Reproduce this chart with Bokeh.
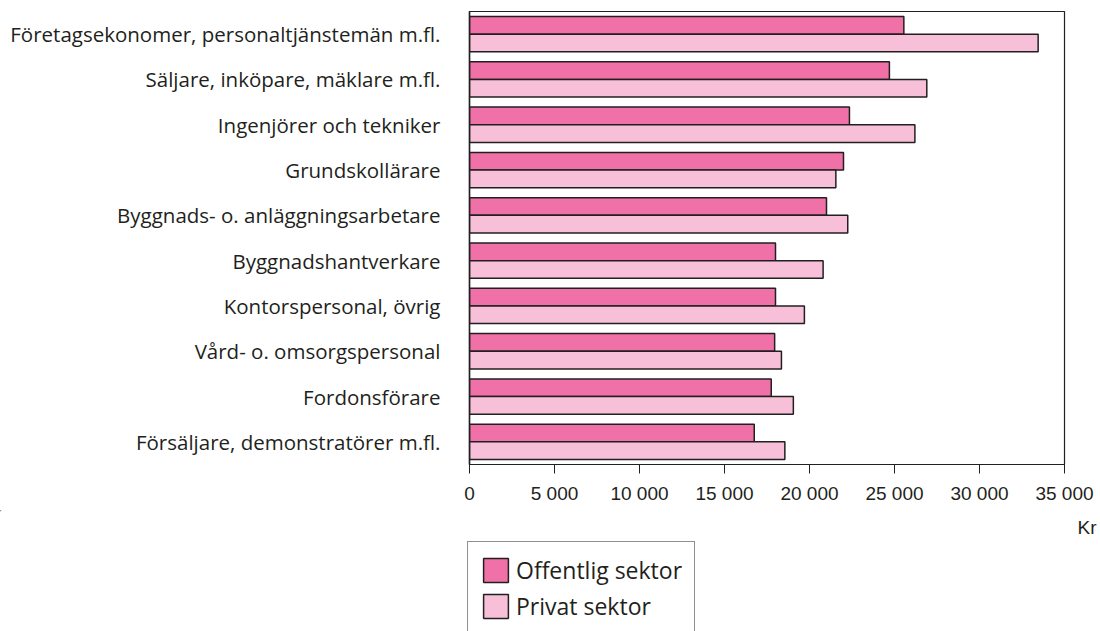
from bokeh.plotting import figure
from bokeh.layouts import column
from bokeh.models import FactorRange, Range1d, FixedTicker, Legend, LegendItem, Label, ColumnDataSource
from bokeh.transform import dodge
from bokeh.embed import file_html
from bokeh.resources import INLINE

categories = [
    "Företagsekonomer, personaltjänstemän m.fl.",
    "Säljare, inköpare, mäklare m.fl.",
    "Ingenjörer och tekniker",
    "Grundskollärare",
    "Byggnads- o. anläggningsarbetare",
    "Byggnadshantverkare",
    "Kontorspersonal, övrig",
    "Vård- o. omsorgspersonal",
    "Fordonsförare",
    "Försäljare, demonstratörer m.fl.",
]
offentlig = [25550, 24700, 22350, 22000, 21000, 18000, 18000, 17950, 17750, 16750]
privat = [33450, 26900, 26200, 21550, 22250, 20800, 19700, 18350, 19050, 18550]
series_names = ["Offentlig sektor", "Privat sektor"]
x_ticks = [0, 5000, 10000, 15000, 20000, 25000, 30000, 35000]
x_tick_labels = ["0", "5 000", "10 000", "15 000", "20 000", "25 000", "30 000", "35 000"]
unit_label = "Kr"

src = ColumnDataSource(dict(cat=categories, off=offentlig, priv=privat))

ink = "#231F20"
fill_off = "#F070A8"
fill_priv = "#F7C0D8"

W = 1100
H1 = 510
H2 = 121

p = figure(
    width=W, height=H1,
    y_range=FactorRange(*list(reversed(categories)), range_padding=0),
    x_range=Range1d(0, 35000),
    output_backend="svg", toolbar_location=None,
    min_border_left=469, min_border_right=36, min_border_top=11, min_border_bottom=46,
)
p.frame_align = False
p.background_fill_color = "white"
p.border_fill_color = "white"
p.outline_line_color = ink
p.outline_line_width = 1.2
p.grid.visible = False

p.hbar(y=dodge("cat", 0.195, range=p.y_range), right="off", left=0, height=0.39,
       source=src, fill_color=fill_off, line_color=ink, line_width=1.5)
p.hbar(y=dodge("cat", -0.195, range=p.y_range), right="priv", left=0, height=0.39,
       source=src, fill_color=fill_priv, line_color=ink, line_width=1.5)

xa = p.xaxis[0]
xa.ticker = FixedTicker(ticks=x_ticks)
xa.major_label_overrides = {t: l for t, l in zip(x_ticks, x_tick_labels)}
xa.minor_tick_line_color = None
xa.major_tick_in = 0
xa.major_tick_out = 9
xa.major_tick_line_color = ink
xa.axis_line_color = ink
xa.major_label_text_font = "Liberation Sans"
xa.major_label_text_font_size = "19px"
xa.major_label_text_color = ink
xa.major_label_standoff = 9

ya = p.yaxis[0]
ya.major_tick_line_color = None
ya.minor_tick_line_color = None
ya.axis_line_color = ink
ya.axis_line_width = 1.5
ya.major_label_text_font = "Open Sans"
ya.major_label_text_font_size = "20.5px"
ya.major_label_text_color = ink
ya.major_label_standoff = 23

# lower strip: unit label and legend
p2 = figure(
    width=W, height=H2,
    x_range=Range1d(0, W), y_range=Range1d(H1 + H2, H1),
    output_backend="svg", toolbar_location=None,
    min_border_left=0, min_border_right=0, min_border_top=0, min_border_bottom=0,
    x_axis_location=None, y_axis_location=None,
)
p2.frame_align = False
p2.outline_line_color = None
p2.grid.visible = False
p2.background_fill_color = "white"
p2.border_fill_color = "white"

# legend-only renderers (their single zero-size bar lies far outside the visible range)
proxy = ColumnDataSource(dict(y=[-5000], left=[-5000], right=[-5000]))
l_off = p2.hbar(y="y", right="right", left="left", height=1, source=proxy,
                fill_color=fill_off, line_color=ink, line_width=1.5)
l_priv = p2.hbar(y="y", right="right", left="left", height=1, source=proxy,
                 fill_color=fill_priv, line_color=ink, line_width=1.5)

legend = Legend(
    items=[LegendItem(label=series_names[0], renderers=[l_off]),
           LegendItem(label=series_names[1], renderers=[l_priv])],
    location=(467, -4),
    glyph_width=31, glyph_height=30, spacing=4, padding=12, margin=0,
    label_standoff=5,
    label_text_font="Open Sans", label_text_font_size="23px", label_text_color=ink,
    label_text_baseline="middle",
    border_line_color=ink, border_line_width=1.2,
    background_fill_color="white", background_fill_alpha=1,
)
p2.add_layout(legend, "center")

kr = Label(x=1096, y=527, text=unit_label,
           text_align="right", text_baseline="middle",
           text_font="Liberation Sans", text_font_size="19px", text_color=ink)
p2.add_layout(kr)

layout = column(p, p2, spacing=0)
open("out.html", "w").write(file_html(layout, INLINE))
